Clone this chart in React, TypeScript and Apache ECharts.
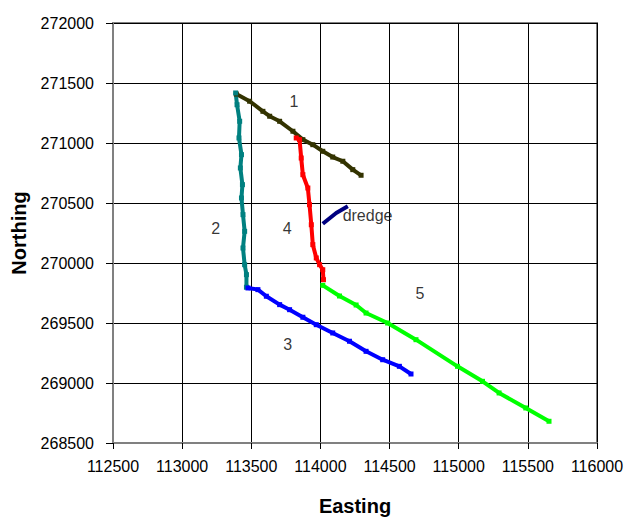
import React, { useEffect, useRef } from "react";
import * as echarts from "echarts";

const eastingTicks = [112500, 113000, 113500, 114000, 114500, 115000, 115500, 116000];
const northingTicks = [268500, 269000, 269500, 270000, 270500, 271000, 271500, 272000];

const line1 = [
  [113392, 271408], [113488, 271348], [113584, 271264], [113633, 271223], [113705, 271181],
  [113801, 271098], [113873, 271028], [113945, 270986], [114017, 270931], [114089, 270883],
  [114162, 270848], [114234, 270778], [114294, 270731],
];
const line2 = [
  [113387, 271417], [113397, 271319], [113416, 271181], [113411, 271042], [113429, 270903],
  [113421, 270792], [113436, 270653], [113429, 270542], [113440, 270403], [113452, 270264],
  [113440, 270125], [113452, 269986], [113465, 269903], [113465, 269798],
];
const line3 = [
  [113476, 269792], [113548, 269778], [113609, 269723], [113705, 269653], [113777, 269611],
  [113873, 269548], [113970, 269486], [114089, 269417], [114210, 269348], [114330, 269264],
  [114450, 269194], [114571, 269139], [114655, 269075],
];
const line4 = [
  [113825, 271042], [113849, 271028], [113861, 270875], [113873, 270736], [113909, 270625],
  [113921, 270486], [113934, 270319], [113945, 270153], [113970, 270042], [113994, 269986],
  [114017, 269944], [114022, 269861],
];
const line5 = [
  [114017, 269814], [114138, 269725], [114258, 269650], [114330, 269583], [114486, 269500],
  [114691, 269361], [114991, 269139], [115172, 269014], [115292, 268917], [115485, 268792],
  [115653, 268681],
];
const dredge = [
  [114017, 270327], [114114, 270417], [114198, 270473],
];

const labelNames = ["1", "2", "3", "4", "5"];
const labelPoints = [
  [113808, 271348], [113243, 270286], [113763, 269317], [113760, 270286], [114720, 269744],
];
const dredgeLabel = "dredge";
const dredgeLabelPoint = [114157, 270392];

const FONT = "Liberation Sans, Arial, sans-serif";

export default function App() {
  const ref = useRef<HTMLDivElement>(null);
  useEffect(() => {
    if (!ref.current) return;
    const chart = echarts.init(ref.current, undefined, { renderer: "svg" });
    const mkLine = (name: string, data: number[][], color: string) => ({
      name,
      type: "line",
      data,
      showSymbol: true,
      showAllSymbol: true,
      symbol: "rect",
      symbolSize: 5,
      itemStyle: { color },
      lineStyle: { color, width: 4 },
      z: 3,
    });
    chart.setOption({
      animation: false,
      backgroundColor: "#ffffff",
      grid: { left: 113, right: 31, top: 23, bottom: 76, show: true, borderColor: "#808080", borderWidth: 2, backgroundColor: "#ffffff" },
      xAxis: {
        type: "value",
        min: eastingTicks[0],
        max: eastingTicks[eastingTicks.length - 1],
        interval: 500,
        name: "Easting",
        nameLocation: "middle",
        nameGap: 53,
        nameTextStyle: { fontFamily: FONT, fontSize: 20, fontWeight: "bold", color: "#000" },
        axisLine: { show: true, lineStyle: { color: "#808080", width: 2 } },
        axisTick: { show: true, length: 6, lineStyle: { color: "#000" } },
        axisLabel: { fontFamily: FONT, fontSize: 16, color: "#000", margin: 15, formatter: (v: number) => String(v) },
        splitLine: { show: true, lineStyle: { color: "#000", width: 1 } },
      },
      yAxis: {
        type: "value",
        min: northingTicks[0],
        max: northingTicks[northingTicks.length - 1],
        interval: 500,
        name: "Northing",
        nameLocation: "middle",
        nameGap: 84,
        nameTextStyle: { fontFamily: FONT, fontSize: 20, fontWeight: "bold", color: "#000" },
        axisLine: { show: true, lineStyle: { color: "#808080", width: 2 } },
        axisTick: { show: true, length: 7, lineStyle: { color: "#000" } },
        axisLabel: { fontFamily: FONT, fontSize: 16, color: "#000", margin: 19, formatter: (v: number) => String(v) },
        splitLine: { show: true, lineStyle: { color: "#000", width: 1 } },
      },
      series: [
        mkLine("1", line1, "#333300"),
        mkLine("2", line2, "#008080"),
        mkLine("3", line3, "#0000ff"),
        mkLine("4", line4, "#ff0000"),
        mkLine("5", line5, "#00ff00"),
        { ...mkLine("dredge", dredge, "#000080"), showSymbol: false },
        {
          type: "scatter",
          symbolSize: 1,
          itemStyle: { color: "rgba(0,0,0,0)" },
          z: 5,
          data: [
            ...labelPoints.map((p, i) => ({
              value: p,
              label: {
                show: true,
                formatter: labelNames[i],
                position: "inside",
                fontFamily: FONT,
                fontSize: 16,
                color: "#000",
              },
            })),
            {
              value: dredgeLabelPoint,
              label: {
                show: true,
                formatter: dredgeLabel,
                position: "right",
                distance: 0,
                fontFamily: FONT,
                fontSize: 16,
                color: "#000",
              },
            },
          ],
        },
      ],
    });
    return () => chart.dispose();
  }, []);
  return <div ref={ref} style={{ position: "fixed", left: 0, top: 0, width: 628, height: 521 }} />;
}
